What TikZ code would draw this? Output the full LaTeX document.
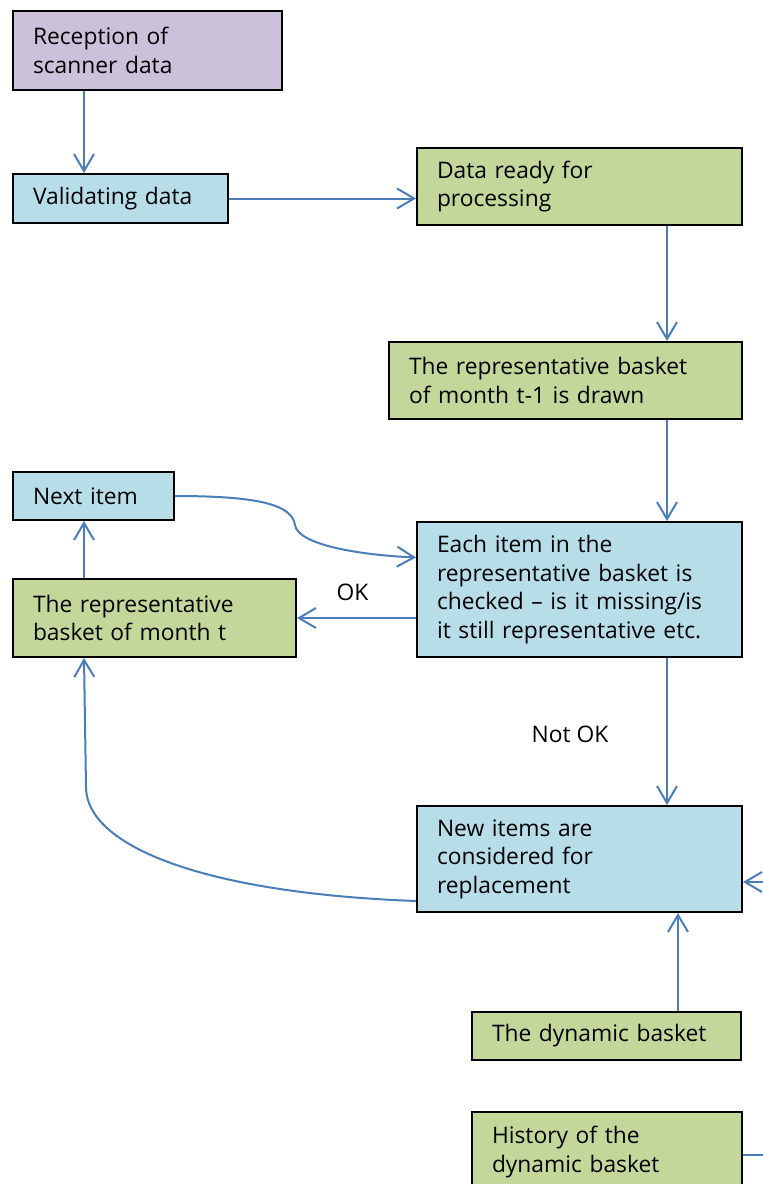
\documentclass[tikz,border=0pt]{standalone}
\usepackage{fontspec}
\setmainfont{Open Sans}
\usetikzlibrary{arrows.meta}
\definecolor{boxpurple}{HTML}{CCC1DA}
\definecolor{boxblue}{HTML}{B7DDE8}
\definecolor{boxgreen}{HTML}{C4D79B}
\definecolor{flowblue}{HTML}{4A7EBB}
\tikzset{
  box/.style={draw=black, line width=2pt, anchor=north west, align=left,
    inner xsep=20pt, inner ysep=0pt, font=\fontsize{22.8}{28.5}\selectfont},
  lbl/.style={font=\fontsize{22.8}{28.5}\selectfont, inner sep=0pt},
  flowline/.style={draw=flowblue, line width=2pt},
  flow/.style={flowline, -{Straight Barb[length=17pt,width=20pt]}}
}
\begin{document}
\begin{tikzpicture}[x=1pt,y=-1pt]
\useasboundingbox (0,0) rectangle (763,1184);
% boxes
\node[box, fill=boxpurple, text width=229pt, minimum height=79pt] (recept) at (12,10) {Reception of\\scanner data};
\node[box, fill=boxblue, text width=175pt, minimum height=49pt] (valid) at (12,173) {Validating data};
\node[box, fill=boxgreen, text width=285pt, minimum height=77pt] (ready) at (416,147) {Data ready for\\processing};
\node[box, fill=boxgreen, text width=313pt, minimum height=77pt] (drawn) at (388,341) {The representative basket\\of month t-1 is drawn};
\node[box, fill=boxblue, text width=121pt, minimum height=48pt] (next) at (12,471) {Next item};
\node[box, fill=boxblue, text width=285pt, minimum height=135pt] (check) at (416,521) {Each item in the\\representative basket is\\checked -- is it missing/is\\it still representative etc.};
\node[box, fill=boxgreen, text width=243pt, minimum height=78pt] (montht) at (12,578) {The representative\\basket of month t};
\node[box, fill=boxblue, text width=285pt, minimum height=106pt] (newit) at (416,805) {New items are\\considered for\\replacement};
\node[box, fill=boxgreen, text width=229pt, minimum height=48pt] (dyn) at (471,1011) {The dynamic basket};
\node[box, fill=boxgreen, text width=230pt, minimum height=80pt] (hist) at (471,1111) {History of the\\dynamic basket};
% columns and free ends
\path
(84,0) coordinate (colL)
(667,0) coordinate (colR)
(678,0) coordinate (colD)
(775,882) coordinate (rin)
(775,1155) coordinate (rout)
;
% connectors
\draw[flow] (recept.south -| colL) -- (valid.north -| colL);
\draw[flow] (valid.east) -- (valid.east -| ready.west);
\draw[flow] (ready.south -| colR) -- (drawn.north -| colR);
\draw[flow] (drawn.south -| colR) -- (check.north -| colR);
\draw[flow] (check.west |- montht.east) -- (montht.east)
  node[lbl, midway, xshift=-4pt, yshift=26pt] (ok) {OK};
\draw[flow] (check.south -| colR) -- (newit.north -| colR)
  node[lbl, midway, xshift=-97pt, yshift=-3pt] (notok) {Not OK};
\draw[flow] ([yshift=-42pt]newit.west) .. controls (200,893) and (86,845) .. (86,787) -- (montht.south -| colL);
\draw[flow] (montht.north -| colL) -- (next.south -| colL);
\draw[flow] (next.east) .. controls (260,496) and (292,505) .. (295,525)
  .. controls (298,545) and (360,555) .. ([yshift=32pt]check.west);
\draw[flow] (dyn.north -| colD) -- (newit.south -| colD);
\draw[flow] (rin) -- (rin -| newit.east);
\draw[flowline] (rout -| hist.east) -- (rout);
\end{tikzpicture}
\end{document}
